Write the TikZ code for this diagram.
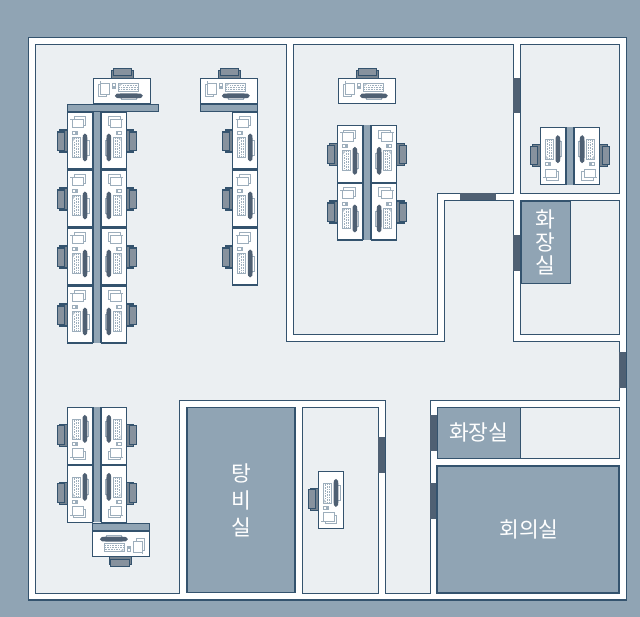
\documentclass[tikz,border=0pt]{standalone}
\usepackage{fontspec}
\newfontfamily\krfont{Noto Sans CJK KR}
\definecolor{bgblue}{HTML}{90A4B4}
\definecolor{wallc}{HTML}{34536E}
\definecolor{roomc}{HTML}{EBEFF2}
\definecolor{doorc}{HTML}{4F6073}
\definecolor{chairb}{HTML}{76838F}
\definecolor{chairs}{HTML}{87929E}
\definecolor{linec}{HTML}{9DAEBC}
\tikzset{
  room/.style={draw=wallc,fill=roomc,line width=1.05pt},
  wall/.style={draw=wallc,fill=white,line width=1.05pt},
  doorway/.style={fill=doorc,draw=none},
  graybox/.style={draw=wallc,fill=bgblue,line width=1.9pt,inner sep=0pt,text=white,align=center,font=\krfont\fontsize{21.5}{23}\selectfont},
  deskbox/.style={draw=wallc,fill=white,line width=1.05pt},
  strip/.style={draw=wallc,fill=bgblue,line width=1.05pt},
  thinl/.style={draw=linec,line width=.75pt},
  dotl/.style={draw=linec,line width=1pt,dash pattern=on .6pt off 1pt}
}
% orientations: local desk occupies (0,0)-(25,57), chair on negative x side
\newcommand{\wdesk}[6]{%
\begin{scope}[cm={#1,#2,#3,#4,(#5,#6)}]
  \draw[draw=wallc,fill=chairb,line width=1.05pt] (-7.5,18) rectangle (0,40);
  \draw[draw=wallc,fill=chairs,line width=1.05pt] (-10,20) rectangle (-2.7,38.5);
  \draw[deskbox] (0,0) rectangle (25,57);
  \draw[thinl,fill=white] (6.5,4.7) rectangle (18,13);
  \draw[thinl,fill=white] (4.8,7.3) rectangle (15.8,15.7);
  \draw[thinl] (3,7.3) -- (4.8,7.3);
  \draw[thinl,fill=white] (5,19) rectangle (10,22);
  \fill[linec] (8,19) rectangle (10,22);
  \draw[thinl,fill=white] (5,25) rectangle (13,45.5);
  \draw[dotl] (7,30) -- (7,44.5);
  \draw[dotl] (9,26) -- (9,44.5);
  \draw[dotl] (11,26) -- (11,44.5);
  \fill[linec] (6,26) -- (8,26) -- (6,29) -- cycle;
  \draw[thinl,fill=white] (18,28) rectangle (21.5,43);
  \fill[doorc] (17.5,21.5) to[out=0,in=90] (20,27) -- (20,44) to[out=-90,in=0] (17.5,49.5) to[out=180,in=-90] (15.2,44) -- (15.2,27) to[out=90,in=180] cycle;
\end{scope}}
\newcommand{\dN}[2]{\wdesk{1}{0}{0}{1}{#1}{#2}}
\newcommand{\dM}[2]{\wdesk{-1}{0}{0}{1}{#1}{#2}}
\newcommand{\dF}[2]{\wdesk{1}{0}{0}{-1}{#1}{#2}}
\newcommand{\dG}[2]{\wdesk{-1}{0}{0}{-1}{#1}{#2}}
\newcommand{\dT}[2]{\wdesk{0}{-1}{-1}{0}{#1}{#2}}
\newcommand{\dB}[2]{\wdesk{0}{1}{1}{0}{#1}{#2}}
% vertical strip with heavy side lines
\newcommand{\vstrip}[3]{%
  \fill[bgblue] (#1,#2) rectangle ++(9,#3);
  \draw[wallc,line width=1.8pt] (#1+.4,#2) -- ++(0,#3) (#1+8.6,#2) -- ++(0,#3);}
\begin{document}
\begin{tikzpicture}[x=1pt,y=-1pt]
\useasboundingbox (0,0) rectangle (640,617);
\fill[bgblue] (0,0) rectangle (640,617);
\draw[wall] (28.4,37.5) rectangle (626.3,600);
% big room
\draw[room] (35.4,44.3) -- (286.6,44.3) -- (286.6,341.3) -- (444.3,341.3) -- (444.3,200.3) -- (513.3,200.3) -- (513.3,341.3) -- (619.3,341.3) -- (619.3,400.3) -- (430.3,400.3) -- (430.3,593.3) -- (385.3,593.3) -- (385.3,400.3) -- (179.4,400.3) -- (179.4,593.3) -- (35.4,593.3) -- cycle;
% top middle room
\draw[room] (293.3,44.3) -- (513.3,44.3) -- (513.3,193.3) -- (437.3,193.3) -- (437.3,334.3) -- (293.3,334.3) -- cycle;
% right rooms
\draw[room] (520.3,44.3) rectangle (619.3,193.3);
\draw[room] (520.3,200.3) rectangle (619.3,334.3);
\draw[room] (437.3,407.3) rectangle (619.3,458.3);
\draw[room] (302.3,407.3) rectangle (378.4,593.3);
% doors
\fill[doorway] (513.3,78.3) rectangle (520.3,113.5);
\fill[doorway] (513.3,235) rectangle (520.3,270.7);
\fill[doorway] (460,193.3) rectangle (496,200.3);
\fill[doorway] (619.3,352) rectangle (626.3,387.7);
\fill[doorway] (430.3,415) rectangle (437.3,450.7);
\fill[doorway] (430.3,483.3) rectangle (437.3,518.7);
\fill[doorway] (378.4,437) rectangle (385.3,472.7);
% labelled rooms
\node[graybox,minimum width=108.6pt,minimum height=185pt] (tangbi) at (241,500) {탕\\[4pt]비\\[4pt]실};
\node[graybox,line width=1.4pt,minimum width=83pt,minimum height=51pt] (hwa1) at (478.8,432.8) {화장실};
\node[graybox,minimum width=182pt,minimum height=127.6pt] (hoeui) at (528.3,529.5) {\hspace{1.5pt}회의실};
\node[graybox,line width=1.05pt,minimum width=49pt,minimum height=82pt] (hwa2) at (545.8,242.3) {화\\장\\실};
% top-left cluster
\dT{93.3}{78.3}
\draw[strip] (67.4,104.3) rectangle (158.3,111.7);
\dN{67.4}{112} \dN{67.4}{170} \dN{67.4}{228} \dN{67.4}{286}
\dM{126.4}{112} \dM{126.4}{170} \dM{126.4}{228} \dM{126.4}{286}
\vstrip{92.4}{112}{231.5}
% second cluster
\dT{200.3}{78.3}
\draw[strip] (200.3,104.3) rectangle (257.6,111.7);
\dN{232.6}{112} \dN{232.6}{170} \dN{232.6}{228}
% third cluster
\dT{338.3}{78.3}
\dN{337.3}{125.3} \dN{337.3}{183}
\dM{396.7}{125.3} \dM{396.7}{183}
\vstrip{362.3}{125.3}{115}
% top right cluster
\dF{540.3}{184.7}
\dG{599.7}{184.7}
\vstrip{565.3}{127.3}{57.4}
% single desk
\dF{318.4}{528.4}
% bottom-left cluster
\dF{67.3}{464.4} \dF{67.3}{522.4}
\dG{126.4}{464.4} \dG{126.4}{522.4}
\vstrip{92.3}{407.3}{115}
\dB{149.4}{556.7}
\draw[strip] (92.3,523.3) rectangle (149.4,530.7);
\end{tikzpicture}
\end{document}
